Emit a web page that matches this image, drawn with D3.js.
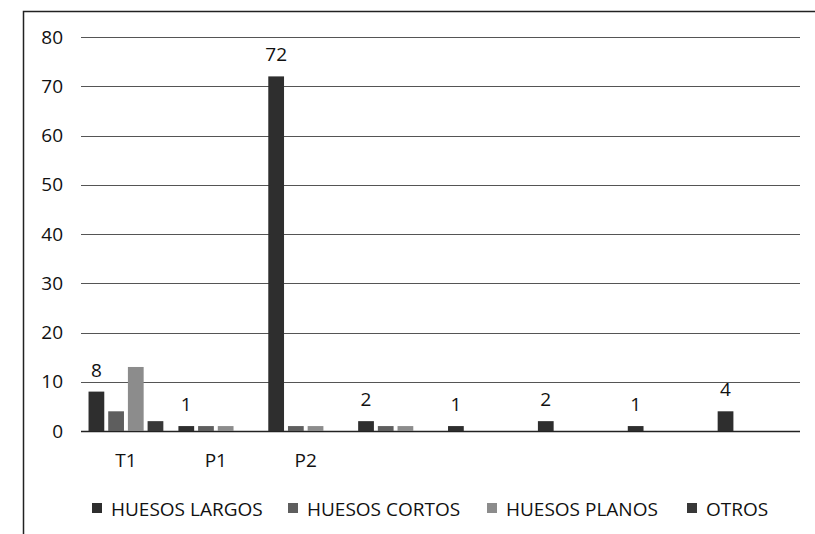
<!DOCTYPE html>
<html>
<head>
<meta charset="utf-8">
<script src="https://cdn.jsdelivr.net/npm/d3@7"></script>
<style>
body { margin: 0; background: #fff; }
text { font-family: "Open Sans", Lato, sans-serif; fill: #111; }
</style>
</head>
<body>
<div id="chart"></div>
<script>
// data
var groups = ["G1", "G2", "G3", "G4", "G5", "G6", "G7", "G8"];
var tickLabels = ["T1", "P1", "P2", "", "", "", "", ""];
var seriesNames = ["HUESOS LARGOS", "HUESOS CORTOS", "HUESOS PLANOS", "OTROS"];
var largos = [8, 1, 72, 2, 1, 2, 1, 4];
var cortos = [4, 1, 1, 1, 0, 0, 0, 0];
var planos = [13, 1, 1, 1, 0, 0, 0, 0];
var otros  = [2, 0, 0, 0, 0, 0, 0, 0];
var yTicks = [0, 10, 20, 30, 40, 50, 60, 70, 80];

var seriesValues = [largos, cortos, planos, otros];
var colors = ["#2e2e2e", "#5e5e5e", "#8c8c8c", "#383838"];

var width = 815, height = 534;
var margin = {top: 37, right: 15, bottom: 103, left: 81};

var svg = d3.select("#chart").append("svg")
  .attr("width", width)
  .attr("height", height);

// outer frame (cut off on the right and bottom)
svg.append("path")
  .attr("d", "M23.5,534 V11.5 H815")
  .attr("fill", "none")
  .attr("stroke", "#222")
  .attr("stroke-width", 1.5);

var x0 = d3.scaleBand()
  .domain(groups)
  .range([margin.left, width - margin.right])
  .paddingInner(0.08)
  .paddingOuter(0.04);

var x1 = d3.scaleBand()
  .domain(seriesNames)
  .range([0, x0.bandwidth()])
  .padding(0.2);

var y = d3.scaleLinear()
  .domain([0, 80])
  .range([height - margin.bottom, margin.top]);

// gridlines
svg.append("g")
  .selectAll("line")
  .data(yTicks)
  .enter().append("line")
  .attr("x1", margin.left)
  .attr("x2", width - margin.right)
  .attr("y1", function(d) { return Math.round(y(d)) + 0.5; })
  .attr("y2", function(d) { return Math.round(y(d)) + 0.5; })
  .attr("stroke", function(d) { return d === 0 ? "#222" : "#555"; })
  .attr("stroke-width", function(d) { return d === 0 ? 1.3 : 1; });

// y axis labels
var ya = svg.append("g")
  .attr("transform", "translate(63,0)")
  .call(d3.axisLeft(y).tickValues(yTicks).tickSize(0).tickPadding(0));
ya.select(".domain").remove();
ya.selectAll("text")
  .style("font-family", "'Open Sans', Lato, sans-serif")
  .style("font-size", "19px")
  .attr("fill", "#111");

// bars
var g = svg.append("g").selectAll("g")
  .data(groups)
  .enter().append("g")
  .attr("transform", function(d) { return "translate(" + x0(d) + ",0)"; });

g.selectAll("rect")
  .data(function(d, i) {
    return seriesNames.map(function(s, j) { return {series: s, j: j, value: seriesValues[j][i]}; })
      .filter(function(e) { return e.value > 0; });
  })
  .enter().append("rect")
  .attr("x", function(d) { return x1(d.series); })
  .attr("width", x1.bandwidth())
  .attr("y", function(d) { return y(d.value); })
  .attr("height", function(d) { return y(0) - y(d.value); })
  .attr("fill", function(d) { return colors[d.j]; });

// value labels, first series only
svg.append("g").selectAll("text")
  .data(groups)
  .enter().append("text")
  .attr("x", function(d) { return x0(d) + x1(seriesNames[0]) + x1.bandwidth() / 2; })
  .attr("y", function(d, i) { return y(largos[i]) - 15; })
  .attr("text-anchor", "middle")
  .style("font-size", "19px")
  .text(function(d, i) { return largos[i]; });

// category labels
svg.append("g").selectAll("text")
  .data(groups)
  .enter().append("text")
  .attr("x", function(d) { return x0(d) + x0.bandwidth() / 2; })
  .attr("y", 467)
  .attr("text-anchor", "middle")
  .style("font-size", "19px")
  .text(function(d, i) { return tickLabels[i]; });

// legend
var legendX = [92, 288, 487, 687];
var legend = svg.append("g").selectAll("g")
  .data(seriesNames)
  .enter().append("g")
  .attr("transform", function(d, i) { return "translate(" + legendX[i] + ",503)"; });
legend.append("rect")
  .attr("width", 10)
  .attr("height", 10)
  .attr("fill", function(d, i) { return colors[i]; });
legend.append("text")
  .attr("x", 19)
  .attr("y", 13)
  .style("font-size", "19px")
  .text(function(d) { return d; });
</script>
</body>
</html>
